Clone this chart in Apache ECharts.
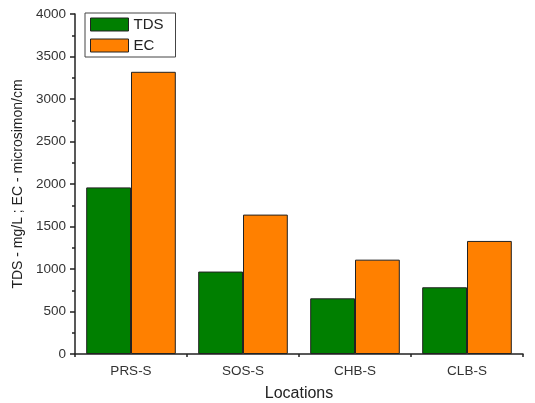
<!DOCTYPE html>
<html><head><meta charset="utf-8">
<script src="https://cdn.jsdelivr.net/npm/echarts@6/dist/echarts.min.js"></script>
<style>html,body{margin:0;padding:0;background:#fff}#c{width:535px;height:403px}</style>
</head><body><div id="c"></div>
<script>
const categories = ['PRS-S', 'SOS-S', 'CHB-S', 'CLB-S'];
const tdsValues = [1960, 970, 655, 785];
const ecValues = [3320, 1640, 1110, 1330];
const yTicks = [0, 500, 1000, 1500, 2000, 2500, 3000, 3500, 4000];

const chart = echarts.init(document.getElementById('c'), null, {renderer: 'canvas'});
const font = 'Liberation Sans, Arial, sans-serif';
chart.setOption({
  animation: false,
  backgroundColor: '#fff',
  grid: {left: 75, right: 12, top: 14, bottom: 49, containLabel: false, outerBoundsMode: 'none'},
  legend: {
    left: 85, top: 13, orient: 'vertical', icon: 'rect',
    itemWidth: 38, itemHeight: 13, itemGap: 6,
    borderColor: '#444', borderWidth: 1, padding: [4, 12, 4, 5],
    itemStyle: {borderColor: '#222', borderWidth: 1},
    textStyle: {fontFamily: font, fontSize: 15, color: '#222', lineHeight: 13},
    data: ['TDS', 'EC']
  },
  xAxis: [{
    type: 'category', data: categories,
    name: 'Locations', nameLocation: 'middle', nameGap: 32,
    nameTextStyle: {fontFamily: font, fontSize: 16, color: '#222'},
    axisLine: {lineStyle: {color: '#222', width: 1.5}},
    axisTick: {alignWithLabel: true, length: 6, lineStyle: {color: '#222', width: 1.5}},
    axisLabel: {fontFamily: font, fontSize: 13.5, color: '#333', margin: 10}
  }, {
    type: 'category', data: categories, position: 'bottom',
    axisLine: {show: false},
    axisTick: {show: true, length: 3, lineStyle: {color: '#222', width: 1.5}},
    axisLabel: {show: false}
  }],
  yAxis: {
    type: 'value', min: 0, max: 4000, interval: 500,
    name: 'TDS - mg/L ; EC - microsimon/cm', nameLocation: 'middle', nameGap: 50,
    nameTextStyle: {fontFamily: font, fontSize: 14, color: '#222'},
    axisLine: {show: true, lineStyle: {color: '#222', width: 1.5}},
    axisTick: {show: true, length: 5, lineStyle: {color: '#222', width: 1.5}},
    minorTick: {show: true, splitNumber: 2, length: 3, lineStyle: {color: '#222', width: 1.5}},
    splitLine: {show: false},
    axisLabel: {fontFamily: font, fontSize: 13.5, color: '#333', margin: 9,
      formatter: v => yTicks.includes(v) ? String(v) : ''}
  },
  series: [{
    name: 'TDS', type: 'bar', data: tdsValues, barGap: '0%', barCategoryGap: '20%',
    itemStyle: {color: '#007F00', borderColor: '#222', borderWidth: 1}
  }, {
    name: 'EC', type: 'bar', data: ecValues,
    itemStyle: {color: '#FF8000', borderColor: '#222', borderWidth: 1}
  }]
});
</script></body></html>
